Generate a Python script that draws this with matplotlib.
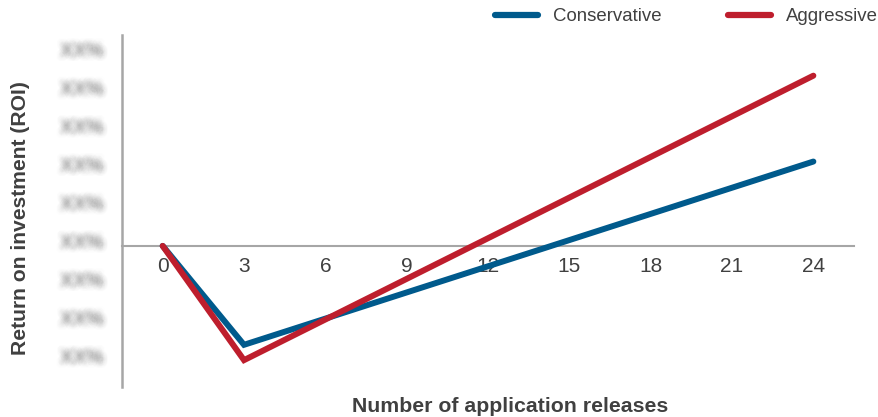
import matplotlib
matplotlib.use("Agg")
import matplotlib.pyplot as plt
import matplotlib.patheffects as pe
import numpy as np

plt.rcParams['font.family'] = ['Liberation Sans', 'DejaVu Sans']

# Data
releases = [0, 3, 24]
conservative = [0, -25.8, 22.0]
aggressive = [0, -29.8, 44.4]
x_ticks = [0, 3, 6, 9, 12, 15, 18, 21, 24]
y_ticks = [-30, -20, -10, 0, 10, 20, 30, 40, 50]
y_tick_label = "XX%"

blue = "#005a8c"
red = "#be1e2d"
grid_gray = "#a6a6a6"
text_gray = "#404040"

fig = plt.figure(figsize=(8.79, 4.17), dpi=100)
ax = fig.add_axes([0.1388, 0.072, 0.8328, 0.844])

ax.plot(releases, conservative, color=blue, lw=4.3, solid_capstyle='round',
        solid_joinstyle='miter', label="Conservative", zorder=3)
ax.plot(releases, aggressive, color=red, lw=4.3, solid_capstyle='round',
        solid_joinstyle='miter', label="Aggressive", zorder=4)

ax.set_xlim(-1.5, 25.5)
ax.set_ylim(-36.8, 55.0)

for side in ("top", "right"):
    ax.spines[side].set_visible(False)
ax.spines["bottom"].set_position(("data", 0))
ax.spines["bottom"].set_color(grid_gray)
ax.spines["bottom"].set_linewidth(1.5)
ax.spines["left"].set_color(grid_gray)
ax.spines["left"].set_linewidth(1.8)

ax.set_xticks(x_ticks)
ax.set_xticklabels([str(v) for v in x_ticks])
ax.tick_params(axis="x", length=0, pad=8, labelsize=15, labelcolor=text_gray)
ax.set_yticks(y_ticks)
ax.set_yticklabels([])
ax.tick_params(axis="y", length=0)

# Out-of-focus percentage labels: each label is one text drawn through a
# stack of faint offset fills, which gives a soft gaussian-like blur.
blur_effects = []
for dx in np.linspace(-3.6, 3.6, 11):
    for dy in np.linspace(-3.6, 3.6, 11):
        w = np.exp(-(dx**2 + dy**2) / 7.0)
        blur_effects.append(pe.SimplePatchShadow(offset=(dx, dy), shadow_rgbFace="#909090",
                                                 alpha=0.028 * w, rho=1.0))
for yv in y_ticks:
    ax.text(-0.025, yv + 0.6, y_tick_label, transform=ax.get_yaxis_transform(),
            ha="right", va="center", fontsize=14, color="none",
            path_effects=blur_effects, zorder=1)

fig.text(0.58, 0.025, "Number of application releases", ha="center", va="center",
         fontsize=15.3, fontweight="bold", color=text_gray)
fig.text(0.023, 0.478, "Return on investment (ROI)", ha="center", va="center",
         rotation=90, fontsize=15.2, fontweight="bold", color=text_gray)

leg = fig.legend(loc="upper right", bbox_to_anchor=(1.018, 1.02), ncol=2, frameon=False,
                 fontsize=13.4, handlelength=2.3, handletextpad=0.8, columnspacing=3.6)
for t in leg.get_texts():
    t.set_color(text_gray)
for h in leg.legend_handles:
    h.set_linewidth(4.5)

fig.savefig("out.png", dpi=100)
